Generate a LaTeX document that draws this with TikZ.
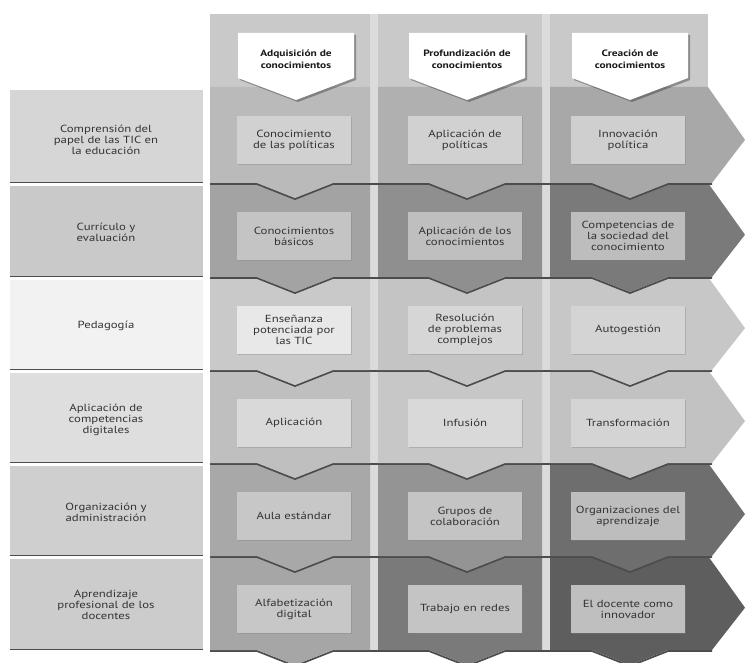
\documentclass[tikz,border=0pt]{standalone}
\usepackage{fontspec}
\setmainfont{PT Sans}[FakeStretch=1.24]
\usetikzlibrary{shadows}
\definecolor{txtc}{gray}{0.2}
\definecolor{panel}{gray}{0.79}
\definecolor{gapc}{gray}{0.86}
\definecolor{ra1}{gray}{0.73}\definecolor{rb1}{gray}{0.69}\definecolor{rc1}{gray}{0.66}\definecolor{lb1}{gray}{0.84}
\definecolor{ra2}{gray}{0.64}\definecolor{rb2}{gray}{0.56}\definecolor{rc2}{gray}{0.48}\definecolor{lb2}{gray}{0.79}
\definecolor{ra3}{gray}{0.79}\definecolor{rb3}{gray}{0.77}\definecolor{rc3}{gray}{0.78}\definecolor{lb3}{gray}{0.95}
\definecolor{ra4}{gray}{0.75}\definecolor{rb4}{gray}{0.78}\definecolor{rc4}{gray}{0.76}\definecolor{lb4}{gray}{0.87}
\definecolor{ra5}{gray}{0.66}\definecolor{rb5}{gray}{0.58}\definecolor{rc5}{gray}{0.43}\definecolor{lb5}{gray}{0.81}
\definecolor{ra6}{gray}{0.65}\definecolor{rb6}{gray}{0.48}\definecolor{rc6}{gray}{0.37}\definecolor{lb6}{gray}{0.80}
\definecolor{ia1}{gray}{0.82}\definecolor{ib1}{gray}{0.82}\definecolor{ic1}{gray}{0.81}
\definecolor{ia2}{gray}{0.77}\definecolor{ib2}{gray}{0.75}\definecolor{ic2}{gray}{0.74}
\definecolor{ia3}{gray}{0.91}\definecolor{ib3}{gray}{0.84}\definecolor{ic3}{gray}{0.83}
\definecolor{ia4}{gray}{0.85}\definecolor{ib4}{gray}{0.85}\definecolor{ic4}{gray}{0.83}
\definecolor{ia5}{gray}{0.78}\definecolor{ib5}{gray}{0.77}\definecolor{ic5}{gray}{0.74}
\definecolor{ia6}{gray}{0.78}\definecolor{ib6}{gray}{0.77}\definecolor{ic6}{gray}{0.75}
\newcommand\rowband[6]{%
  \draw[sh] (210,{#2+1}) -- (257,{#2+1}) -- (295,{#2+16}) -- (333,{#2+1}) -- (429,{#2+1}) -- (467,{#2+16}) -- (505,{#2+1}) -- (592,{#2+1}) -- (630,{#2+16}) -- (668,{#2+1}) -- (712,{#2+1});
  \fill[#3] (210,#1) -- (370,#1) -- (370,#2) -- (333,#2) -- (295,{#2+15}) -- (257,#2) -- (210,#2) -- cycle;
  \fill[#4] (378,#1) -- (542,#1) -- (542,#2) -- (505,#2) -- (467,{#2+15}) -- (429,#2) -- (378,#2) -- cycle;
  \fill[#5] (550,#1) -- (708,#1) -- (745,{#1+0.55*(#2-#1)}) -- (712,#2) -- (668,#2) -- (630,{#2+15}) -- (592,#2) -- (550,#2) -- cycle;
  \fill[#6] (10,{#1+3}) rectangle (203,{#2-1});
  \draw[sh] (10,{#2-0.5}) -- (203,{#2-0.5});
}
\begin{document}
\begin{tikzpicture}[x=1pt,y=-1pt,
  sh/.style={draw=black!70, line width=1.8pt, line join=round},
  txt/.style={align=center, text=txtc, font=\fontsize{10.3}{11}\selectfont},
  inbox/.style={txt, minimum width=114pt, minimum height=48pt, inner sep=1pt,
    drop shadow={opacity=0.35, shadow xshift=1.2pt, shadow yshift=-1.2pt}},
  hdr/.style={align=center, text=black!90, font=\bfseries\fontsize{9.2}{12}\selectfont}]
\useasboundingbox (0,0) rectangle (745,663);
\fill[white] (0,0) rectangle (745,663);
% column panels and gaps
\fill[gapc] (210,14) rectangle (708,650);
\fill[panel] (210,14) rectangle (370,650);
\fill[panel] (378,14) rectangle (542,650);
\fill[panel] (550,14) rectangle (708,650);
% rows, bottom to top
\rowband{556}{650}{ra6}{rb6}{rc6}{lb6}
\rowband{463}{556}{ra5}{rb5}{rc5}{lb5}
\rowband{370}{463}{ra4}{rb4}{rc4}{lb4}
\rowband{277}{370}{ra3}{rb3}{rc3}{lb3}
\rowband{183}{277}{ra2}{rb2}{rc2}{lb2}
\rowband{87}{183}{ra1}{rb1}{rc1}{lb1}
% header arrows
\foreach \cx in {296,467,630}{
  \fill[black, opacity=0.3] (\cx-56,35) -- (\cx+60,35) -- (\cx+60,80) -- (\cx+2,102) -- (\cx-56,80) -- cycle;
  \fill[white] (\cx-58,33) -- (\cx+58,33) -- (\cx+58,78) -- (\cx,100) -- (\cx-58,78) -- cycle;
}
\node[hdr] (h1) at (296,59) {Adquisición de\\conocimientos};
\node[hdr] (h2) at (467,59) {Profundización de\\conocimientos};
\node[hdr] (h3) at (630,59) {Creación de\\conocimientos};
% row labels
\node[txt] (lab1) at (106,140) {Comprensión del\\papel de las TIC en\\la educación};
\node[txt] (lab2) at (106,232) {Currículo y\\evaluación};
\node[txt] (lab3) at (106,326) {Pedagogía};
\node[txt] (lab4) at (106,420) {Aplicación de\\competencias\\digitales};
\node[txt] (lab5) at (106,512) {Organización y\\administración};
\node[txt] (lab6) at (106,605) {Aprendizaje\\profesional de los\\docentes};
% cells
\node[inbox, fill=ia1] (c11) at (294,140) {Conocimiento\\de las políticas};
\node[inbox, fill=ib1] (c12) at (465,140) {Aplicación de\\políticas};
\node[inbox, fill=ic1] (c13) at (628,140) {Innovación\\política};
\node[inbox, fill=ia2] (c21) at (294,236) {Conocimientos\\básicos};
\node[inbox, fill=ib2] (c22) at (465,236) {Aplicación de los\\conocimientos};
\node[inbox, fill=ic2] (c23) at (628,236) {Competencias de\\la sociedad del\\conocimiento};
\node[inbox, fill=ia3] (c31) at (294,330) {Enseñanza\\potenciada por\\las TIC};
\node[inbox, fill=ib3] (c32) at (465,330) {Resolución\\de problemas\\complejos};
\node[inbox, fill=ic3] (c33) at (628,330) {Autogestión};
\node[inbox, fill=ia4] (c41) at (294,423) {Aplicación};
\node[inbox, fill=ib4] (c42) at (465,423) {Infusión};
\node[inbox, fill=ic4] (c43) at (628,423) {Transformación};
\node[inbox, fill=ia5] (c51) at (294,516) {Aula estándar};
\node[inbox, fill=ib5] (c52) at (465,516) {Grupos de\\colaboración};
\node[inbox, fill=ic5] (c53) at (628,516) {Organizaciones del\\aprendizaje};
\node[inbox, fill=ia6] (c61) at (294,609) {Alfabetización\\digital};
\node[inbox, fill=ib6] (c62) at (465,609) {Trabajo en redes};
\node[inbox, fill=ic6] (c63) at (628,609) {El docente como\\innovador};
\end{tikzpicture}
\end{document}
